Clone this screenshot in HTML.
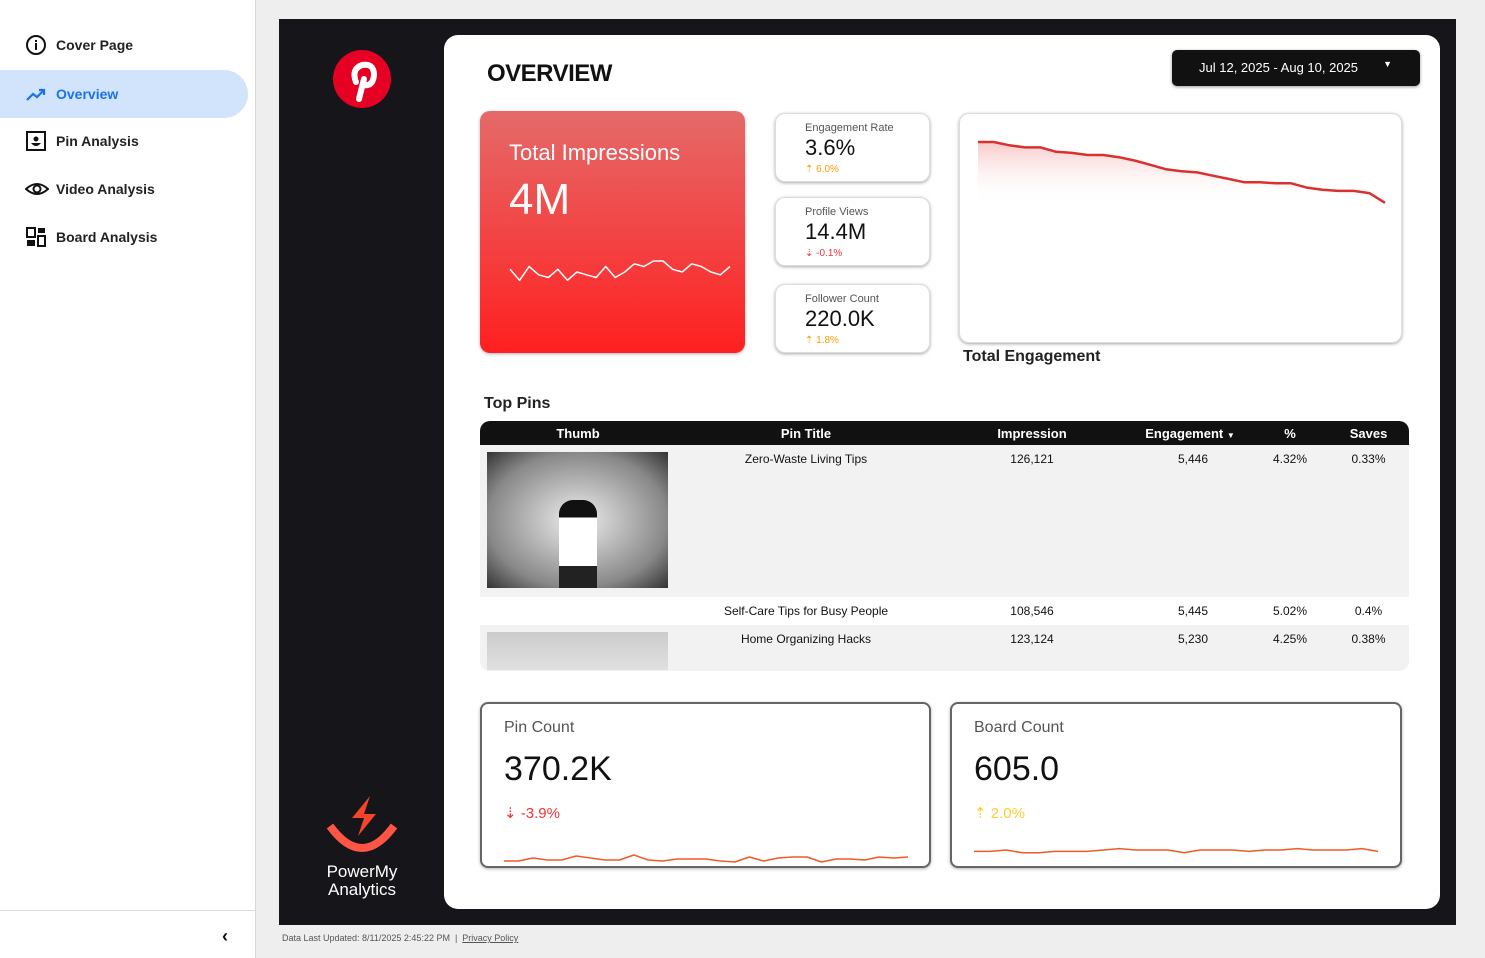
<!DOCTYPE html>
<html><head><meta charset="utf-8">
<style>
*{box-sizing:border-box;margin:0;padding:0}
body{width:1485px;height:958px;background:#eeeeee;font-family:"Liberation Sans",sans-serif;position:relative;overflow:hidden;color:#111}
.abs{position:absolute}
#side{left:0;top:0;width:256px;height:958px;background:#fff;border-right:1px solid #d8d8d8}
.nav{position:absolute;left:0;width:248px;height:48px;display:flex;align-items:center;padding-left:56px;font-size:14px;font-weight:bold;color:#222}
.nav svg{position:absolute;left:25px}
.nav.act{background:#d2e3fc;color:#1a73e8;border-radius:0 24px 24px 0}
#panel{left:279px;top:19px;width:1177px;height:906px;background:#16161a}
#card{left:444px;top:35px;width:996px;height:874px;background:#fff;border-radius:14px}
.kpi{position:absolute;background:#fff;border-radius:10px;box-shadow:0 1px 3px rgba(0,0,0,.35);border:1px solid #ddd}
.kl{font-size:11px;color:#555;position:absolute;left:29px;top:8px}
.kv{font-size:22px;position:absolute;left:29px;top:21px;color:#111}
.kd{font-size:10px;position:absolute;left:29px;top:50px}
table{border-collapse:collapse;font-size:12px}
th{background:#111;color:#fff;height:24px;font-size:13px}
td{vertical-align:top;text-align:center;padding-top:7px}
.big{position:absolute;border:2px solid #666;border-radius:8px;background:#fff;box-shadow:0 1px 3px rgba(0,0,0,.3)}
.bl{position:absolute;left:22px;top:15px;font-size:16px;color:#555}
.bv{position:absolute;left:22px;top:46px;font-size:34px;color:#111}
.bd{position:absolute;left:22px;top:100px;font-size:15px}
</style></head><body>
<div id="side" class="abs">
 <div class="nav" style="top:21px"><svg width="22" height="22" viewBox="0 0 22 22"><circle cx="11" cy="11" r="9" fill="none" stroke="#111" stroke-width="2"/><rect x="10" y="9" width="2" height="7" fill="#111"/><rect x="10" y="6" width="2" height="2" fill="#111"/></svg>Cover Page</div>
 <div class="nav act" style="top:70px"><svg width="22" height="22" viewBox="0 0 22 22"><polyline points="2,17 8,11 12,14 19,7" fill="none" stroke="#1a73e8" stroke-width="2.2"/><polyline points="14,7 19,7 19,12" fill="none" stroke="#1a73e8" stroke-width="2.2"/></svg>Overview</div>
 <div class="nav" style="top:117px"><svg width="22" height="22" viewBox="0 0 22 22"><rect x="2" y="2" width="18" height="18" fill="none" stroke="#111" stroke-width="2"/><circle cx="11" cy="9" r="2.5" fill="#111"/><path d="M6 13 Q11 19 16 13 Z" fill="#111"/></svg>Pin Analysis</div>
 <div class="nav" style="top:165px"><svg width="24" height="22" viewBox="0 0 24 22"><path d="M1 11 Q12 1 23 11 Q12 21 1 11Z" fill="none" stroke="#111" stroke-width="2"/><circle cx="12" cy="11" r="3.5" fill="none" stroke="#111" stroke-width="2"/></svg>Video Analysis</div>
 <div class="nav" style="top:213px"><svg width="22" height="22" viewBox="0 0 22 22"><rect x="2" y="2" width="8" height="9" fill="none" stroke="#111" stroke-width="2"/><rect x="13" y="2" width="7" height="5" fill="#111"/><rect x="2" y="14" width="8" height="6" fill="#111"/><rect x="13" y="10" width="7" height="10" fill="none" stroke="#111" stroke-width="2"/></svg>Board Analysis</div>
 <div class="abs" style="left:0;top:910px;width:256px;border-top:1px solid #ddd"></div>
 <div class="abs" style="left:222px;top:926px;font-size:18px;font-weight:bold">‹</div>
</div>
<div id="panel" class="abs"></div>
<svg class="abs" style="left:332px;top:49px" width="60" height="60"><circle cx="30" cy="30" r="29" fill="#e60023"/><path d="M27 50 L32 30 M24 33 Q19 20 30 16 Q42 14 42 26 Q41 38 31 36" fill="none" stroke="#fff" stroke-width="6" stroke-linecap="round"/></svg>
<div class="abs" style="left:316px;top:794px;width:92px;text-align:center;color:#fff">
 <svg width="80" height="62" viewBox="0 0 80 62"><path d="M8 32 Q40 76 72 32" fill="none" stroke="#f54" stroke-width="8"/><path d="M48 2 L30 24 L42 24 L36 42 L54 20 L42 20 Z" fill="#f5442a"/></svg>
 <div style="font-size:17px;line-height:18px;margin-top:2px">PowerMy<br>Analytics</div></div>
<div id="card" class="abs"></div>
<div class="abs" style="left:487px;top:60px;font-size:24px;font-weight:bold;color:#111;letter-spacing:-0.5px">OVERVIEW</div>
<div class="abs" style="left:1172px;top:50px;width:248px;height:36px;background:#111;border-radius:5px;color:#fff;font-size:13px;padding:10px 0 0 27px;box-shadow:0 1px 3px rgba(0,0,0,.4)">Jul 12, 2025 - Aug 10, 2025<span style="position:absolute;right:28px;top:9px;font-size:9px">▼</span></div>

<div class="abs" style="left:480px;top:111px;width:265px;height:242px;border-radius:10px;background:linear-gradient(#e56a6a,#ff2020);box-shadow:0 1px 3px rgba(0,0,0,.3)">
 <div style="position:absolute;left:29px;top:29px;color:#fff;font-size:22px">Total Impressions</div>
 <div style="position:absolute;left:29px;top:64px;color:#fff;font-size:44px">4M</div>
 <svg id="impSpark" style="position:absolute;left:0;top:0" width="265" height="242"></svg>
</div>
<div class="kpi" style="left:775px;top:113px;width:155px;height:69px"><div class="kl">Engagement Rate</div><div class="kv">3.6%</div><div class="kd" style="color:#f90">⇡ 6.0%</div></div>
<div class="kpi" style="left:775px;top:197px;width:155px;height:69px"><div class="kl">Profile Views</div><div class="kv">14.4M</div><div class="kd" style="color:#e33">⇣ -0.1%</div></div>
<div class="kpi" style="left:775px;top:284px;width:155px;height:69px"><div class="kl">Follower Count</div><div class="kv">220.0K</div><div class="kd" style="color:#f90">⇡ 1.8%</div></div>
<div class="kpi" style="left:959px;top:113px;width:443px;height:230px"><svg id="engChart" width="443" height="230"></svg></div>
<div class="abs" style="left:963px;top:348px;font-size:16px;font-weight:bold;color:#222">Total Engagement</div>

<div class="abs" style="left:484px;top:395px;font-size:16px;font-weight:bold;color:#222">Top Pins</div>
<div class="abs" style="left:480px;top:421px;width:929px;height:250px;border-radius:10px;overflow:hidden;background:#f2f2f2">
<table style="width:929px">
<tr><th style="width:196px">Thumb</th><th style="width:260px">Pin Title</th><th style="width:192px">Impression</th><th style="width:124px">Engagement <span style="font-size:8px">▼</span></th><th style="width:76px">%</th><th>Saves</th></tr>
<tr style="height:152px;background:#f2f2f2"><td><div style="margin:-0px 0 0 7px;width:181px;height:136px;background:radial-gradient(ellipse at 50% 50%,#eee,#888 70%,#333);position:relative"><div style="position:absolute;left:72px;top:48px;width:38px;height:88px;background:linear-gradient(#111 0 20%,#fff 20% 75%,#222 75%);border-radius:14px 14px 0 0"></div></div></td><td>Zero-Waste Living Tips</td><td>126,121</td><td style="text-align:right;padding-right:44px">5,446</td><td>4.32%</td><td>0.33%</td></tr>
<tr style="height:28px;background:#fff"><td></td><td>Self-Care Tips for Busy People</td><td>108,546</td><td style="text-align:right;padding-right:44px">5,445</td><td>5.02%</td><td>0.4%</td></tr>
<tr style="height:46px"><td><div style="margin:0 0 0 7px;width:181px;height:38px;background:linear-gradient(#ccc,#e0e0e0)"></div></td><td>Home Organizing Hacks</td><td>123,124</td><td style="text-align:right;padding-right:44px">5,230</td><td>4.25%</td><td>0.38%</td></tr>
</table></div>

<div class="big" style="left:480px;top:702px;width:451px;height:166px"><div class="bl">Pin Count</div><div class="bv">370.2K</div><div class="bd" style="color:#e33">⇣ -3.9%</div><svg id="pinSpark" style="position:absolute;left:0;top:0" width="451" height="166"></svg></div>
<div class="big" style="left:950px;top:702px;width:452px;height:166px"><div class="bl">Board Count</div><div class="bv">605.0</div><div class="bd" style="color:#fc3">⇡ 2.0%</div><svg id="boardSpark" style="position:absolute;left:0;top:0" width="452" height="166"></svg></div>

<div class="abs" style="left:282px;top:933px;font-size:9px;color:#555">Data Last Updated: 8/11/2025 2:45:22 PM &nbsp;|&nbsp; <u>Privacy Policy</u></div>

<script>
const engValues=[100,100,98.5,97.5,97.5,95.5,95,94,94,93,91.5,89.5,87.5,86.5,86,84.5,83,81.5,81.5,81,81,79,78,77.5,77.5,76.5,72];
const impValues=[5,1,6,3,2,5,1,4,3,2,6,2,4,7,6,8,8,5,4,7,6,4,3,6];
const pinValues=[3,3,6,4,4,8,6,4,4,9,4,3,5,5,5,3,2,7,3,6,7,7,2,5,5,4,7,6,7];
const boardValues=[4,4,5,3,3,4,4,4,5,6,5,5,5,3,5,5,5,4,5,5,6,5,5,5,6,4];
const NS='http://www.w3.org/2000/svg';
function lin(d0,d1,r0,r1){return v=>r0+(v-d0)/(d1-d0)*(r1-r0);}
function pathOf(vals,x0,x1,ymin,ymax,py0,py1){const sx=lin(0,vals.length-1,x0,x1),sy=lin(ymin,ymax,py0,py1);return vals.map((v,i)=>(i?'L':'M')+sx(i).toFixed(1)+' '+sy(v).toFixed(1)).join(' ');}
function addPath(svg,d,stroke,w,fill){const p=document.createElementNS(NS,'path');p.setAttribute('d',d);p.setAttribute('fill',fill||'none');p.setAttribute('stroke',stroke);p.setAttribute('stroke-width',w);p.setAttribute('stroke-linejoin','round');svg.appendChild(p);return p;}
const eng=document.getElementById('engChart');
eng.innerHTML='<defs><linearGradient id="eg" x1="0" y1="0" x2="0" y2="1"><stop offset="0" stop-color="#e88" stop-opacity=".45"/><stop offset="1" stop-color="#fff" stop-opacity="0"/></linearGradient></defs>';
const ed=pathOf(engValues,18,425,71,100,91,28);
const ea=addPath(eng,ed+' L425 91 L18 91 Z','none',0,'url(#eg)');


const el=addPath(eng,ed,'#d93030',2.5);


const s1=addPath(document.getElementById('impSpark'),pathOf(impValues,30,250,0,8,172,150),'#fff',1.5);


const s2=addPath(document.getElementById('pinSpark'),pathOf(pinValues,22,426,0,10,160,150),'#f05a28',1.5);


const s3=addPath(document.getElementById('boardSpark'),pathOf(boardValues,22,426,0,10,153,139),'#f05a28',1.5);


</script>
</body></html>
